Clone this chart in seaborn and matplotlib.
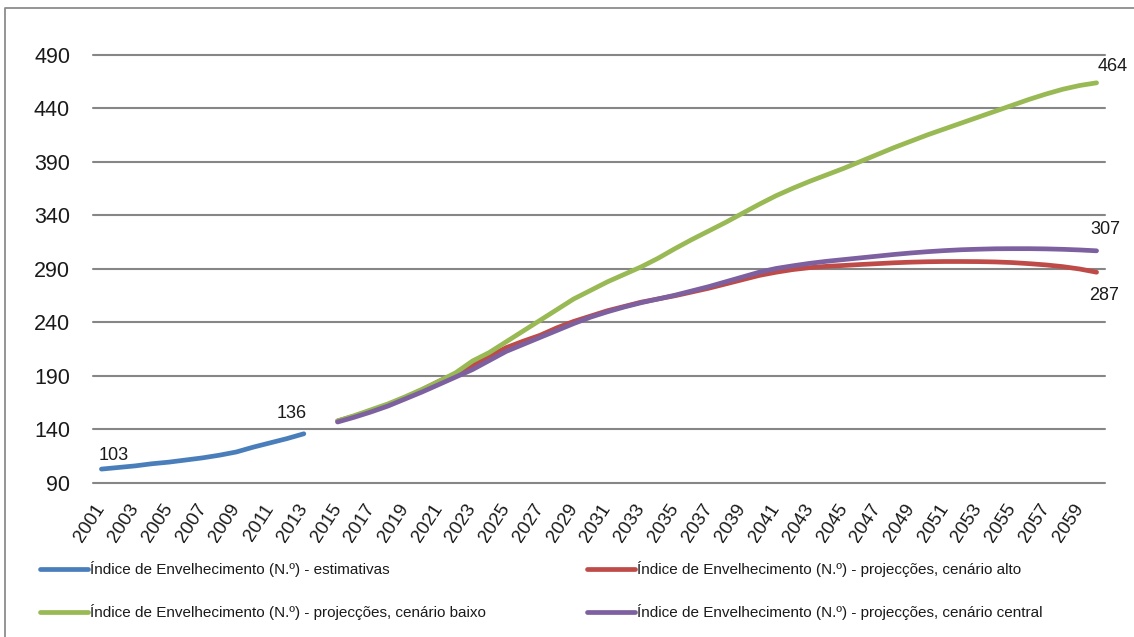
import matplotlib
matplotlib.use("Agg")
import matplotlib.pyplot as plt
from matplotlib.lines import Line2D
import numpy as np
import pandas as pd
import seaborn as sns

# --- data -------------------------------------------------------------------
est_years = list(range(2001, 2014))
est_values = [103, 104.5, 106, 108, 109.5, 111.5, 113.5, 116, 119, 123.5, 127.5, 131.5, 136]

proj_years = list(range(2015, 2061))
proj_alto = [148, 152.5, 157.5, 163, 169.5, 177, 185, 192, 199.5, 208.5, 216.5, 222.5, 228,
             235, 241, 246, 251, 255, 259, 262, 265, 268.5, 272, 276, 280, 284, 287, 289.5,
             291.3, 292.5, 293.3, 294.2, 295, 295.8, 296.4, 296.8, 297, 297, 296.9, 296.6,
             296, 295, 293.8, 292.2, 290, 287]
proj_baixo = [148, 153, 158.5, 164, 170.5, 177.5, 185, 193, 204, 212, 222, 232, 242, 252,
              262, 270, 278, 285, 292, 300, 309, 317.5, 325.5, 333.5, 342, 350.5, 358.5, 365.5,
              372, 378, 384, 390.5, 397, 403.5, 409.5, 415.5, 421, 426.5, 432, 437.5, 443,
              448.5, 453.5, 458, 461.5, 464]
proj_central = [147, 151.5, 156.5, 162, 168.5, 175, 182, 189, 196, 204.5, 213, 219.5, 226,
                232.5, 239, 245, 250, 254.5, 258.5, 262, 265.5, 269.5, 273.5, 278, 282.5, 287,
                290.5, 293, 295.3, 297.2, 298.8, 300.4, 302, 303.6, 305, 306.2, 307.2, 308,
                308.5, 308.9, 309, 309, 308.8, 308.4, 307.8, 307]

series_names = [
    "Índice de Envelhecimento (N.º) - estimativas",
    "Índice de Envelhecimento (N.º) - projecções, cenário alto",
    "Índice de Envelhecimento (N.º) - projecções, cenário baixo",
    "Índice de Envelhecimento (N.º) - projecções, cenário central",
]
series_colors = ["#4A7EBB", "#BE4B48", "#98B954", "#7D60A0"]

y_ticks = list(range(90, 491, 50))
x_ticks = list(range(2001, 2060, 2))

# --- style ------------------------------------------------------------------
sns.set_theme(style="white")
plt.rcParams["font.family"] = ["Liberation Sans", "DejaVu Sans"]

fig = plt.figure(figsize=(11.34, 6.37), dpi=100)
W, H = 1134, 637
ax = fig.add_axes([93 / W, 1 - 483 / H, (1105 - 93) / W, (483 - 55) / H])

frames = [
    pd.DataFrame({"ano": est_years, "valor": est_values}),
    pd.DataFrame({"ano": proj_years, "valor": proj_alto}),
    pd.DataFrame({"ano": proj_years, "valor": proj_baixo}),
    pd.DataFrame({"ano": proj_years, "valor": proj_central}),
]
handles = []
for df, name, col in zip(frames, series_names, series_colors):
    sns.lineplot(data=df, x="ano", y="valor", ax=ax, color=col, linewidth=3.4,
                 solid_capstyle="round", legend=False)
    handles.append(Line2D([0], [0], color=col, linewidth=3.4, solid_capstyle="round",
                          label=name))

ax.set_xlim(2000.5, 2060.5)
ax.set_ylim(90, 490)
ax.set_xlabel("")
ax.set_ylabel("")
for s in ax.spines.values():
    s.set_visible(False)

ax.set_yticks(y_ticks)
ax.set_yticklabels([str(v) for v in y_ticks], fontsize=15.5, color="#1a1a1a")
ax.tick_params(axis="y", length=0, pad=16.5)
ax.yaxis.grid(True, color="#868686", linewidth=1.5)
ax.xaxis.grid(False)
for gl in ax.get_ygridlines():
    gl.set_clip_on(False)

ax.set_xticks(x_ticks)
ax.set_xticklabels([str(v) for v in x_ticks], fontsize=13.5, color="#1a1a1a",
                   rotation=57, ha="right", va="center", rotation_mode="anchor")
ax.tick_params(axis="x", length=0, pad=16)

# --- value labels -----------------------------------------------------------
lab_kw = dict(textcoords="offset pixels", fontsize=13, color="#1a1a1a",
              ha="center", va="center", annotation_clip=False)
ax.annotate(f"{est_values[0]:.0f}", (est_years[0], est_values[0]), xytext=(12, 14), **lab_kw)
ax.annotate(f"{est_values[-1]:.0f}", (est_years[-1], est_values[-1]), xytext=(-12, 20), **lab_kw)
ax.annotate(f"{proj_baixo[-1]:.0f}", (proj_years[-1], proj_baixo[-1]), xytext=(16, 16), **lab_kw)
ax.annotate(f"{proj_central[-1]:.0f}", (proj_years[-1], proj_central[-1]), xytext=(9, 21), **lab_kw)
ax.annotate(f"{proj_alto[-1]:.0f}", (proj_years[-1], proj_alto[-1]), xytext=(7, -23), **lab_kw)

# --- legend (two columns) ---------------------------------------------------
leg_kw = dict(loc="center left", frameon=False, fontsize=11, handlelength=3.15,
              handletextpad=0.12, labelspacing=1.75, borderpad=0, borderaxespad=0,
              labelcolor="#1a1a1a")
leg1 = fig.legend(handles=[handles[0], handles[2]], bbox_to_anchor=(40 / W, 1 - 590.5 / H),
                  **leg_kw)
leg2 = fig.legend(handles=[handles[1], handles[3]], bbox_to_anchor=(587 / W, 1 - 590.5 / H),
                  **leg_kw)

# --- chart area border ------------------------------------------------------
fig.add_artist(Line2D([5 / W, 5 / W, 1.01], [-0.01, 1 - 8 / H, 1 - 8 / H],
                      transform=fig.transFigure, color="#8c8c8c", linewidth=1.3))

fig.savefig("out.png", dpi=100)
